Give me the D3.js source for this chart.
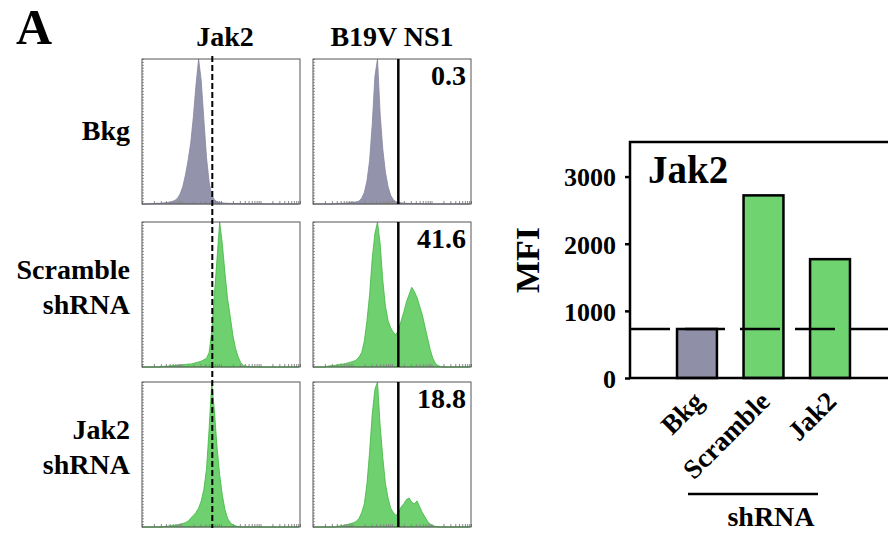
<!DOCTYPE html>
<html>
<head>
<meta charset="utf-8">
<script src="https://cdn.jsdelivr.net/npm/d3@7/dist/d3.min.js"></script>
<style>
  body { margin: 0; background: #fff; }
  svg { display: block; }
  text { font-family: "Liberation Serif", "Times New Roman", serif; font-weight: bold; fill: #000; }
</style>
</head>
<body>
<svg id="fig" width="888" height="533"></svg>
<script>
// ---- flow cytometry histograms (60 log-spaced channels, % of modal count) ----
const rowLabels = [["Bkg"], ["Scramble", "shRNA"], ["Jak2", "shRNA"]];
const colLabels = ["Jak2", "B19V NS1"];
const ns1Percent = ["0.3", "41.6", "18.8"];
const rowGroups = ["bkg", "stained", "stained"];

const jakBkg = [0,0,0,0.3,0.3,0.5,0.5,0.6,0.8,1,1.2,1.8,2.5,4,7,12,20,30,42,60,82,100,85,58,32,15,6,3,1.5,1,0.8,0.6,0.5,0.4,0.4,0.3,0.3,0.2,0.2,0.2,0.2,0.2,0.2,0.2,0.2,0.2,0,0,0,0,0,0,0,0,0,0,0,0,0,0];
const jakScramble = [0,0,0,0,0,0,0,0.3,0.5,0.5,0.8,1,1,1.2,1.5,1.5,1.8,2,2,2.5,3,3.5,4,5,6,10,25,50,75,100,85,65,47,35,22,13,7,3,1,0.5,0.3,0,0,0,0,0,0,0,0,0,0,0,0,0,0,0,0,0,0,0];
const jakKnockdown = [0,0,0,0,0,0,0,0,0.3,0.5,0.8,1,1.2,1.5,2,2.5,3,4,6,8,10,13,18,26,40,68,100,80,55,36,22,12,6,3,1.5,0.8,0.3,0,0,0,0,0,0,0,0,0,0,0,0,0,0,0,0,0,0,0,0,0,0,0];

const ns1Bkg = [0,0,0,0,0,0,0,0,0.3,0.3,0.5,0.5,0.6,0.8,1,1.2,1.5,2,4,8,16,30,55,88,100,62,38,22,12,6,3,1.5,1,0.8,0.6,0.5,0.4,0.4,0.3,0.3,0.3,0.2,0.2,0,0,0,0,0,0,0,0,0,0,0,0,0,0,0,0,0];
const ns1Scramble = [0,0,0,0,0,0.5,0.8,1,1.2,1.5,2,2,2.5,3,3.5,4,5,7,10,18,32,50,75,92,100,85,60,42,32,27,24,22,26,32,38,45,50,55,52,48,42,36,28,20,12,6,2.5,1,0.3,0,0,0,0,0,0,0,0,0,0,0];
const ns1Knockdown = [0,0,0,0,0,0,0,0,0,0.5,0.8,1,1.5,2,2.5,3,4,6,10,16,30,52,78,95,100,70,48,30,20,13,10,8,10,14,16,19,20,17,16,18,14,10,7,4,2,1,0.5,0,0,0,0,0,0,0,0,0,0,0,0,0];

const histograms = [
  [jakBkg, ns1Bkg],
  [jakScramble, ns1Scramble],
  [jakKnockdown, ns1Knockdown]
];
const jakReferenceChannel = 26.2;   // MFI of the background Jak2 peak
const ns1GateChannel = 31.9;        // NS1-positive gate

// ---- Jak2 MFI bar chart ----
const mfiCategories = ["Bkg", "Scramble", "Jak2"];
const mfiValues = [730, 2720, 1770];
const mfiBackground = 730;
const mfiTicks = [0, 1000, 2000, 3000];

const svg = d3.select("#fig");
const colors = { bkg: "#9393ab", stained: "#6fd06f", stainedEdge: "#3fb63f", bar: "#6fd46f", barBkg: "#8f8fa8" };

// panel label "A"
svg.append("text").attr("x", 16).attr("y", 44).style("font-size", "50px").text("A");

// histogram grid layout
const colX = [142, 313], rowY = [59, 222, 382];
const pw = 158, ph = 145;
const hx = d3.scaleLinear().domain([0, 59]).range([1.3, pw - 1.3]);
const hy = d3.scaleLinear().domain([0, 100]).range([ph, 0]);
const logX = d3.scaleLog().domain([1, 10000]).range([0, pw]);
const linY = d3.scaleLinear().domain([0, 100]).range([ph, 0]);

colLabels.forEach((t, c) => {
  svg.append("text").attr("x", colX[c] + pw / 2 + (c === 0 ? 4 : 0)).attr("y", 46)
    .attr("text-anchor", "middle").style("font-size", "28px").text(t);
});

const area = d3.area()
  .x((d, i) => hx(i))
  .y0(ph)
  .y1(d => hy(d))
  .curve(d3.curveLinear);

histograms.forEach((row, r) => {
  // row label
  const lines = rowLabels[r];
  const cy = rowY[r] + ph / 2;
  lines.forEach((t, k) => {
    const y = lines.length === 1 ? cy + 8 : cy - 16 + k * 35;
    svg.append("text").attr("x", 130).attr("y", y).attr("text-anchor", "end")
      .style("font-size", "28px").text(t);
  });

  row.forEach((vals, c) => {
    const g = svg.append("g").attr("transform", `translate(${colX[c]},${rowY[r]})`);
    const isBkg = rowGroups[r] === "bkg";
    g.append("path").datum(vals).attr("d", area)
      .attr("fill", isBkg ? colors.bkg : colors.stained)
      .attr("stroke", isBkg ? "#8585a0" : colors.stainedEdge)
      .attr("stroke-width", 0.8);

    // minor channel ticks along the edges
    g.append("g").attr("transform", `translate(0,${ph})`)
      .call(d3.axisBottom(logX).tickSize(-3).tickFormat(""))
      .call(s => { s.select(".domain").remove(); s.selectAll("line").attr("stroke", "#888"); });
    g.append("g")
      .call(d3.axisLeft(linY).ticks(40).tickSize(-2).tickFormat(""))
      .call(s => { s.select(".domain").remove(); s.selectAll("line").attr("stroke", "#999"); });

    g.append("rect").attr("width", pw).attr("height", ph)
      .attr("fill", "none").attr("stroke", "#555").attr("stroke-width", 1);

    if (c === 1) {
      g.append("line").attr("x1", hx(ns1GateChannel)).attr("x2", hx(ns1GateChannel))
        .attr("y1", 0).attr("y2", ph).attr("stroke", "#000").attr("stroke-width", 2.5);
      g.append("text").attr("x", pw - 5).attr("y", 26).attr("text-anchor", "end")
        .style("font-size", "28px").text(ns1Percent[r]);
    }
  });
});

// Jak2 background reference line spanning the Jak2 column
svg.append("line")
  .attr("x1", colX[0] + hx(jakReferenceChannel)).attr("x2", colX[0] + hx(jakReferenceChannel))
  .attr("y1", 56).attr("y2", 528)
  .attr("stroke", "#000").attr("stroke-width", 2).attr("stroke-dasharray", "6,3");

// ---- MFI bar chart ----
const plotLeft = 630, plotTop = 142, plotBottom = 378, plotRight = 900;
const yM = d3.scaleLinear().domain([0, 3500]).range([plotBottom, plotTop + 1]);
const xM = d3.scaleBand().domain(mfiCategories).range([plotLeft, 897])
  .paddingInner(0.4).paddingOuter(0.707);

svg.selectAll("rect.bar").data(mfiCategories).enter().append("rect")
  .attr("class", "bar")
  .attr("x", d => xM(d)).attr("width", xM.bandwidth())
  .attr("y", (d, i) => yM(mfiValues[i]))
  .attr("height", (d, i) => plotBottom - yM(mfiValues[i]))
  .attr("fill", (d, i) => i === 0 ? colors.barBkg : colors.bar)
  .attr("stroke", "#000").attr("stroke-width", 2.5);

svg.append("line")
  .attr("x1", plotLeft).attr("x2", plotRight)
  .attr("y1", yM(mfiBackground)).attr("y2", yM(mfiBackground))
  .attr("stroke", "#000").attr("stroke-width", 2.5).attr("stroke-dasharray", "40,15");

// frame
svg.append("path")
  .attr("d", `M${plotRight},${plotTop}H${plotLeft}V${plotBottom}H${plotRight}`)
  .attr("fill", "none").attr("stroke", "#000").attr("stroke-width", 2.5);

const yAxis = svg.append("g").attr("transform", `translate(${plotLeft},0)`)
  .call(d3.axisLeft(yM).tickValues(mfiTicks).tickSize(5).tickPadding(9).tickFormat(d3.format("d")));
yAxis.select(".domain").remove();
yAxis.selectAll("line").attr("stroke", "#000").attr("stroke-width", 2.5);
yAxis.selectAll("text")
  .style("font-size", "26px")
  .style("font-family", "'Liberation Serif', serif").style("font-weight", "bold")
  .attr("fill", "#000").attr("dy", "0.36em");

svg.append("text")
  .attr("transform", "translate(539,260) rotate(-90)")
  .attr("text-anchor", "middle").style("font-size", "34px").text("MFI");

svg.append("text").attr("x", 648).attr("y", 183).style("font-size", "39px").text("Jak2");

// rotated category labels
mfiCategories.forEach(c => {
  const cx = xM(c) + xM.bandwidth() / 2 + 8;
  svg.append("text")
    .attr("transform", `translate(${cx},403) rotate(-45)`)
    .attr("text-anchor", "end").style("font-size", "27px").text(c);
});

// shRNA bracket
svg.append("line").attr("x1", 688).attr("x2", 818).attr("y1", 494).attr("y2", 494)
  .attr("stroke", "#000").attr("stroke-width", 2.5);
svg.append("text").attr("x", 771).attr("y", 526).attr("text-anchor", "middle")
  .style("font-size", "28px").text("shRNA");
</script>
</body>
</html>
